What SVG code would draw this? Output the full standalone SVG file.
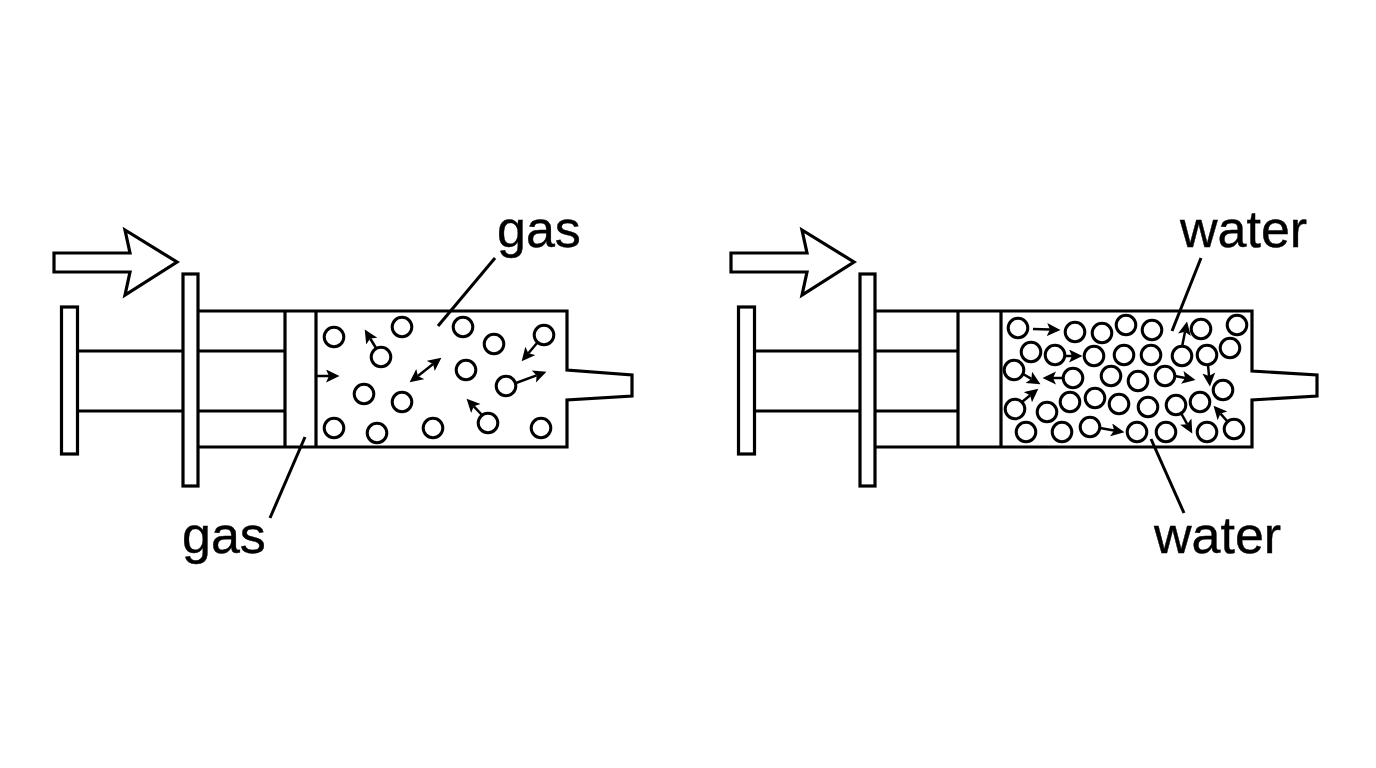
<svg xmlns="http://www.w3.org/2000/svg" width="1376" height="768" viewBox="0 0 1376 768">
  <style>
    .body { fill: #fff; stroke: #000; stroke-width: 3.2; stroke-linejoin: miter; }
    .edge { fill: none; stroke: #000; stroke-width: 3.2; }
    .mol { fill: #fff; stroke: #000; stroke-width: 3; }
    .motion { fill: none; stroke: #000; stroke-width: 2.5; marker-end: url(#tip); }
    .leader { fill: none; stroke: #000; stroke-width: 3; }
    .label { font-family: "Liberation Sans", Arial, sans-serif; font-size: 52px; fill: #000; stroke: #000; stroke-width: 0.4; }
  </style>
  <defs>
    <marker id="tip" markerUnits="userSpaceOnUse" markerWidth="18" markerHeight="16" refX="3" refY="6.5" orient="auto-start-reverse">
      <path d="M0,0 L13.5,6.5 L0,13 L3,6.5 Z" fill="#000"/>
    </marker>
    <g id="mol"><circle r="9.8" class="mol"/></g>
  </defs>
  <rect width="1376" height="768" fill="#fff"/>

  <!-- left syringe, filled with widely spaced gas molecules -->
  <g id="syringe-gas">
    <path class="body" d="M54,253 H130 L125,230 L177,262 L125,295 L130,272 H54 Z"/>
    <path class="edge" d="M78,351 H183 M78,411 H183 M198,351 H285 M198,411 H285"/>
    <path class="edge" d="M198,311 H567 V370 L632,375 V396 L567,400 V447 H198"/>
    <path class="edge" d="M285,311 V447 M316,311 V447"/>
    <rect class="body" x="61.5" y="307" width="16" height="147"/>
    <rect class="body" x="183" y="274" width="15" height="212"/>
  </g>
  <g id="molecules-gas">
    <use href="#mol" x="334" y="337"/><use href="#mol" x="402" y="327"/><use href="#mol" x="463" y="327"/>
    <use href="#mol" x="494" y="344"/><use href="#mol" x="544" y="335"/><use href="#mol" x="381" y="357"/>
    <use href="#mol" x="466" y="370"/><use href="#mol" x="506" y="386"/><use href="#mol" x="364" y="394"/>
    <use href="#mol" x="402" y="402"/><use href="#mol" x="334" y="428"/><use href="#mol" x="377" y="433"/>
    <use href="#mol" x="433" y="428"/><use href="#mol" x="488" y="423"/><use href="#mol" x="541" y="428"/>
  </g>

  <!-- right syringe, packed with water molecules -->
  <g id="syringe-water">
    <path class="body" d="M731,253 H807 L802,230 L854,262 L802,295 L807,272 H731 Z"/>
    <path class="edge" d="M755,351 H860 M755,411 H860 M875,351 H958 M875,411 H958"/>
    <path class="edge" d="M875,311 H1252 V371 L1317,375 V396 L1252,400 V447 H875"/>
    <path class="edge" d="M958,311 V447 M1001,311 V447"/>
    <rect class="body" x="738.5" y="307" width="16" height="147"/>
    <rect class="body" x="860" y="274" width="15" height="212"/>
  </g>
  <g id="molecules-water">
    <use href="#mol" x="1018" y="328"/><use href="#mol" x="1075" y="332"/><use href="#mol" x="1102" y="333"/>
    <use href="#mol" x="1126" y="325"/><use href="#mol" x="1152" y="330"/><use href="#mol" x="1201" y="329"/>
    <use href="#mol" x="1237" y="325"/><use href="#mol" x="1031" y="352"/><use href="#mol" x="1055" y="355"/>
    <use href="#mol" x="1094" y="356"/><use href="#mol" x="1124" y="355"/><use href="#mol" x="1151" y="355"/>
    <use href="#mol" x="1182" y="356"/><use href="#mol" x="1207" y="355"/><use href="#mol" x="1230" y="348"/>
    <use href="#mol" x="1014" y="370"/><use href="#mol" x="1073" y="378"/><use href="#mol" x="1111" y="376"/>
    <use href="#mol" x="1138" y="381"/><use href="#mol" x="1165" y="376"/><use href="#mol" x="1223" y="390"/>
    <use href="#mol" x="1015" y="409"/><use href="#mol" x="1047" y="412"/><use href="#mol" x="1070" y="402"/>
    <use href="#mol" x="1095" y="398"/><use href="#mol" x="1119" y="404"/><use href="#mol" x="1148" y="407"/>
    <use href="#mol" x="1176" y="405"/><use href="#mol" x="1200" y="402"/><use href="#mol" x="1026" y="432"/>
    <use href="#mol" x="1062" y="432"/><use href="#mol" x="1090" y="427"/><use href="#mol" x="1137" y="432"/>
    <use href="#mol" x="1166" y="432"/><use href="#mol" x="1207" y="432"/><use href="#mol" x="1234" y="429"/>
  </g>

  <g id="connectors">
    <!-- motion arrows, gas side -->
    <path class="motion" d="M316,376 H329"/>
    <path class="motion" d="M376,348 L370.2,338.5"/>
    <path class="motion" d="M537,343 L528.4,353.3"/>
    <path class="motion" d="M417.9,375.9 L433.1,364.1" marker-start="url(#tip)"/>
    <path class="motion" d="M516,383 L536.6,375.4"/>
    <path class="motion" d="M482,415 L473.8,406.3"/>
    <!-- motion arrows, water side -->
    <path class="motion" d="M1033,329 L1050,329.6"/>
    <path class="motion" d="M1065,356 H1072"/>
    <path class="motion" d="M1023,374 L1031.4,378.9"/>
    <path class="motion" d="M1063,378 H1053"/>
    <path class="motion" d="M1022,402 L1030.2,395.3"/>
    <path class="motion" d="M1100,428 L1114.1,430.4"/>
    <path class="motion" d="M1182,347 L1185,331.8"/>
    <path class="motion" d="M1175,376 L1185.2,378"/>
    <path class="motion" d="M1208,365 L1209,376"/>
    <path class="motion" d="M1181,413 L1187.2,424.2"/>
    <path class="motion" d="M1227,421 L1220.5,413.6"/>
    <!-- label leaders -->
    <path class="leader" d="M495,258 L438,326"/>
    <path class="leader" d="M305,437 L270,518"/>
    <path class="leader" d="M1201,258 L1172,331"/>
    <path class="leader" d="M1151,439 L1184,513"/>
  </g>

  <g id="labels">
    <text class="label" x="497" y="247">gas</text>
    <text class="label" x="182" y="553">gas</text>
    <text class="label" x="1180" y="247">water</text>
    <text class="label" x="1154" y="553">water</text>
  </g>
</svg>
